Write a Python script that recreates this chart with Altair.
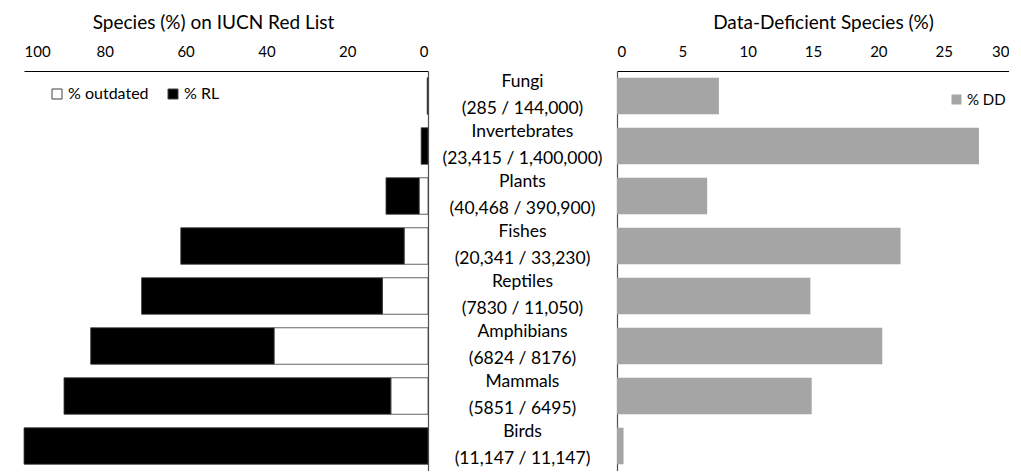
import altair as alt
import pandas as pd

groups = ["Fungi", "Invertebrates", "Plants", "Fishes", "Reptiles", "Amphibians", "Mammals", "Birds"]
counts = ["(285 / 144,000)", "(23,415 / 1,400,000)", "(40,468 / 390,900)", "(20,341 / 33,230)",
          "(7830 / 11,050)", "(6824 / 8176)", "(5851 / 6495)", "(11,147 / 11,147)"]
pct_on_rl = [0.2, 1.7, 10.4, 61.2, 70.9, 83.5, 90.1, 100.0]
pct_outdated = [0.0, 0.0, 2.2, 5.9, 11.3, 38.1, 9.2, 0.0]
pct_dd = [7.8, 27.7, 6.9, 21.7, 14.8, 20.3, 14.9, 0.5]

FONT = "Lato"

rows = []
for g, tot, out in zip(groups, pct_on_rl, pct_outdated):
    rows.append({"group": g, "series": "% outdated", "start": 0.0, "end": out})
    rows.append({"group": g, "series": "% RL", "start": out, "end": tot})
left_df = pd.DataFrame(rows)
left_df = left_df[left_df["end"] > left_df["start"]]

mid_df = pd.DataFrame({"group": groups, "name": groups, "count": counts})
right_df = pd.DataFrame({"group": groups, "dd": pct_dd, "series": ["% DD"] * len(groups)})

yscale = alt.Scale(domain=groups, paddingInner=0.27, paddingOuter=0.135)

left = alt.Chart(left_df).mark_bar(stroke="#404040", strokeWidth=0.8).encode(
    x=alt.X("start:Q", scale=alt.Scale(domain=[0, 100], reverse=True, nice=False),
            axis=alt.Axis(orient="top", values=[0, 20, 40, 60, 80, 100], ticks=False, tickSize=0,
                          grid=False, domainColor="#000000", domainWidth=1.2,
                          title="Species (%) on IUCN Red List", labelPadding=12, titlePadding=12,
                          titleX=189, titleAlign="center")),
    x2="end:Q",
    y=alt.Y("group:N", scale=yscale, sort=groups,
            axis=alt.Axis(orient="right", labels=False, ticks=False, tickSize=0, title=None,
                          domainColor="#505050", domainWidth=1.2)),
    color=alt.Color("series:N", scale=alt.Scale(domain=["% outdated", "% RL"], range=["#ffffff", "#000000"]),
                    legend=alt.Legend(orient="none", legendX=25, legendY=15, direction="horizontal",
                                      title=None, symbolType="square", symbolSize=100,
                                      symbolStrokeColor="#404040", symbolStrokeWidth=1,
                                      labelFontSize=16, labelOffset=3, columnPadding=16, padding=0)),
).properties(width=404, height=400)

mid_base = alt.Chart(mid_df).encode(
    x=alt.value(94.5),
    y=alt.Y("group:N", scale=yscale, sort=groups, axis=None),
)
mid_top = mid_base.mark_text(fontSize=17.5, font=FONT, align="center", baseline="middle",
                             dy=-14, color="#000000").encode(text="name:N")
mid_bot = mid_base.mark_text(fontSize=17.5, font=FONT, align="center", baseline="middle",
                             dy=12.5, color="#000000").encode(text="count:N")
middle = alt.layer(mid_top, mid_bot).properties(width=189, height=400)

right = alt.Chart(right_df).mark_bar().encode(
    x=alt.X("dd:Q", scale=alt.Scale(domain=[0, 30], nice=False),
            axis=alt.Axis(orient="top", values=[0, 5, 10, 15, 20, 25, 30], ticks=False, tickSize=0,
                          grid=False, domainColor="#000000", domainWidth=1.2,
                          title="Data-Deficient Species (%)", labelPadding=12, titlePadding=12,
                          titleX=206, titleAlign="center")),
    y=alt.Y("group:N", scale=yscale, sort=groups,
            axis=alt.Axis(orient="left", labels=False, ticks=False, tickSize=0, title=None,
                          domainColor="#505050", domainWidth=1.2)),
    color=alt.Color("series:N", scale=alt.Scale(domain=["% DD"], range=["#a5a5a5"]),
                    legend=alt.Legend(orient="none", legendX=332, legendY=21, title=None,
                                      symbolType="square", symbolSize=100, labelFontSize=15,
                                      labelOffset=3, padding=0)),
).properties(width=392, height=400)

chart = alt.hconcat(left, middle, right, spacing=0, bounds="flush").resolve_scale(
    color="independent", y="independent", x="independent"
).properties(padding={"left": 15, "top": 5, "right": 0, "bottom": 0}).configure_view(
    stroke=None
).configure_axis(
    labelFont=FONT, titleFont=FONT, labelFontSize=15, titleFontSize=19,
    labelColor="#000000", titleColor="#000000", titleFontWeight="normal"
).configure_legend(labelFont=FONT, labelColor="#000000")

chart.save("out.html", embed_options={"renderer": "svg", "actions": False})
